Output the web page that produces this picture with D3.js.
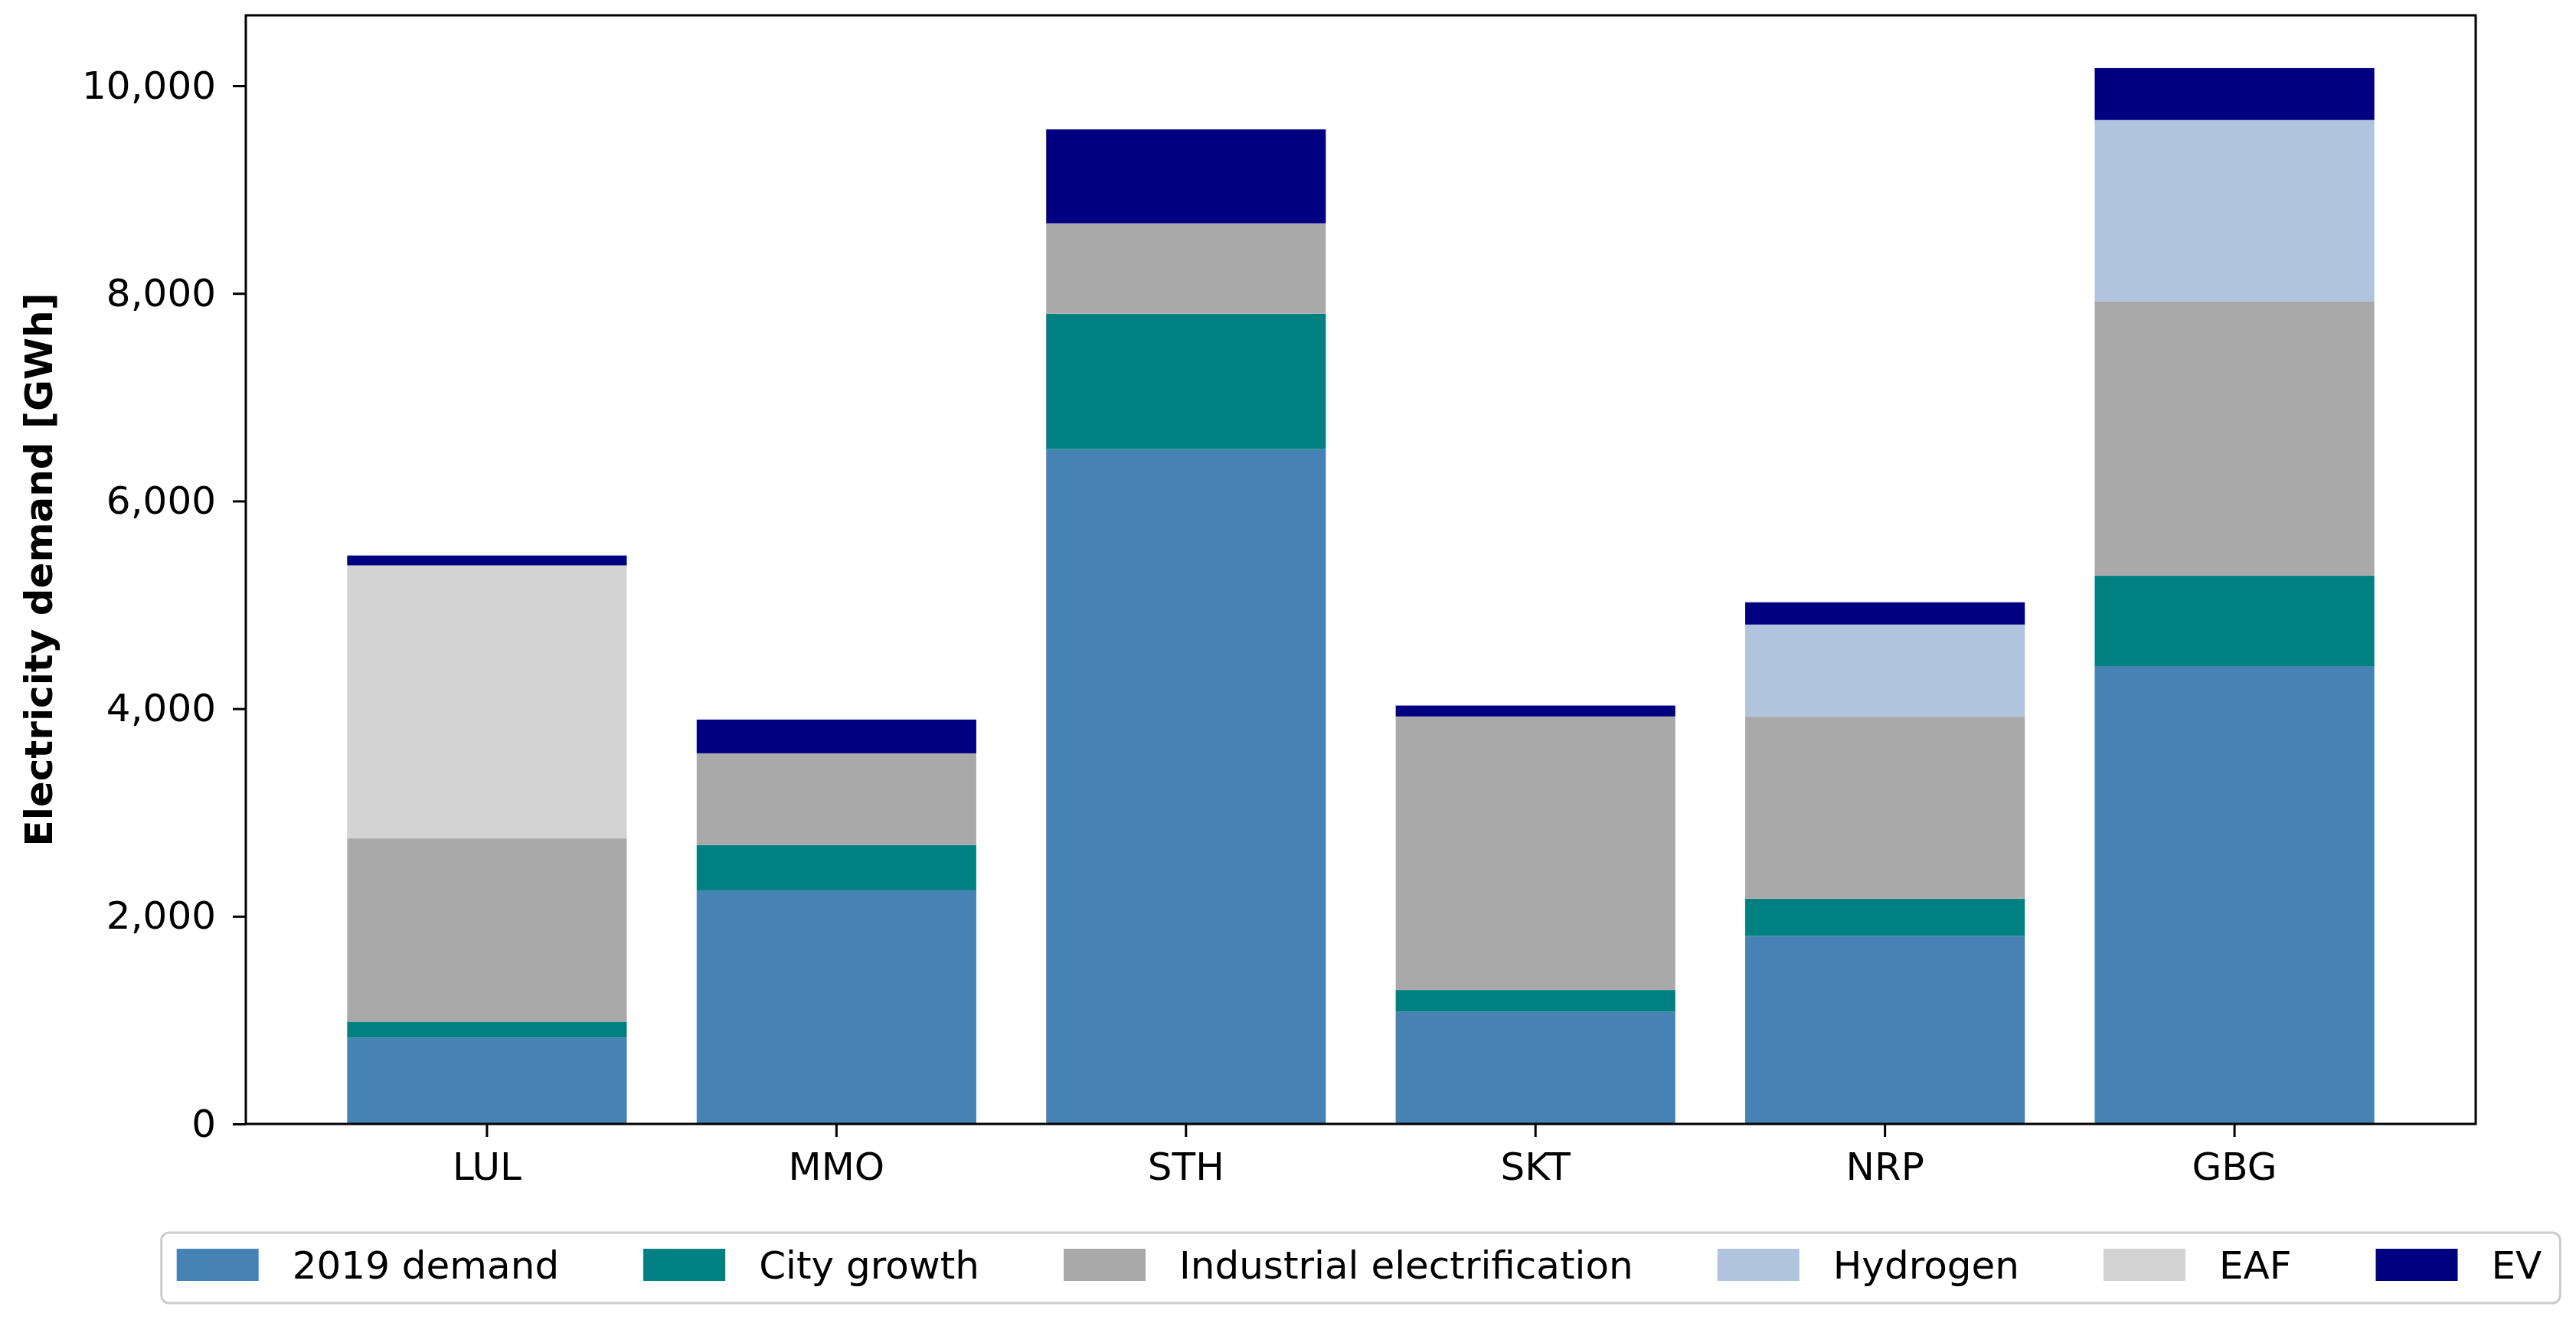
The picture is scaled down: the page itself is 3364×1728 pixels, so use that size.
<!DOCTYPE html>
<html>
<head>
<meta charset="utf-8">
<script src="https://d3js.org/d3.v7.min.js"></script>
<style>
  body { margin: 0; background: #fff; }
  text { font-family: "DejaVu Sans", sans-serif; }
</style>
</head>
<body>
<div id="chart"></div>
<script>
// sites and demand parts (GWh)
var sites = ["LUL", "MMO", "STH", "SKT", "NRP", "GBG"];
var parts = ["2019 demand", "City growth", "Industrial electrification", "Hydrogen", "EAF", "EV"];
var colors = ["#4682b4", "#008080", "#a9a9a9", "#b0c4de", "#d3d3d3", "#000080"];

var demand2019 = [830, 2250, 6500, 1080, 1810, 4410];
var cityGrowth = [155, 435, 1305, 210, 360, 870];
var industrial = [1765, 885, 870, 2635, 1755, 2645];
var hydrogen   = [0, 0, 0, 0, 885, 1745];
var eaf        = [2630, 0, 0, 0, 0, 0];
var ev         = [95, 325, 905, 105, 215, 500];

var yTicks = [0, 2000, 4000, 6000, 8000, 10000];

var series = [demand2019, cityGrowth, industrial, hydrogen, eaf, ev];

var rows = sites.map(function(s, i){
    var r = { site: s };
    parts.forEach(function(p, j){ r[p] = series[j][i]; });
    return r;
});

var W = 3364, H = 1728;
var mLeft = 321, mRight = 3233, mTop = 20, mBottom = 1468;

var svg = d3.select("#chart").append("svg")
    .attr("width", W).attr("height", H);

var stacked = d3.stack().keys(parts)(rows);
var maxTotal = d3.max(rows, function(r){ return d3.sum(parts, function(p){ return r[p]; }); });

var x = d3.scaleBand()
    .domain(sites)
    .range([mLeft, mRight])
    .paddingInner(0.2)
    .paddingOuter(0.29);

var y = d3.scaleLinear()
    .domain([0, maxTotal * 1.05])
    .range([mBottom, mTop]);

// bars
svg.append("g")
  .selectAll("g")
  .data(stacked)
  .enter()
  .append("g")
    .attr("fill", function(d, i){ return colors[i]; })
  .selectAll("rect")
  .data(function(d){ return d; })
  .enter()
  .append("rect")
    .attr("x", function(d){ return x(d.data.site); })
    .attr("width", x.bandwidth())
    .attr("y", function(d){ return y(d[1]); })
    .attr("height", function(d){ return y(d[0]) - y(d[1]); });

// axes
var yAxis = svg.append("g")
    .attr("transform", "translate(" + mLeft + ",0)")
    .call(d3.axisLeft(y).tickValues(yTicks).tickFormat(d3.format(",")).tickSize(17).tickPadding(22));

var xAxis = svg.append("g")
    .attr("transform", "translate(0," + mBottom + ")")
    .call(d3.axisBottom(x).tickSize(17).tickPadding(20));

[yAxis, xAxis].forEach(function(a){
    a.select(".domain").remove();
    a.selectAll("line").attr("stroke", "#000").attr("stroke-width", 3);
    a.selectAll("text").attr("font-size", 50).attr("fill", "#000")
        .style("font-family", "'DejaVu Sans', sans-serif");
});

// frame
svg.append("rect")
    .attr("x", mLeft).attr("y", mTop)
    .attr("width", mRight - mLeft).attr("height", mBottom - mTop)
    .attr("fill", "none").attr("stroke", "#000").attr("stroke-width", 3);

// y label
svg.append("text")
    .attr("transform", "translate(68," + ((mTop + mBottom) / 2) + ") rotate(-90)")
    .attr("text-anchor", "middle")
    .attr("font-size", 50)
    .attr("font-weight", "bold")
    .text("Electricity demand [GWh]");

// legend
var legend = svg.append("g");
var box = legend.append("rect");
var cx = 0, patchW = 107, patchH = 42, gapText = 44, gapItem = 110;
parts.forEach(function(p, i){
    var g = legend.append("g").attr("transform", "translate(" + cx + ",0)");
    g.append("rect").attr("x", 0).attr("y", -patchH / 2)
        .attr("width", patchW).attr("height", patchH).attr("fill", colors[i]);
    var t = g.append("text").attr("x", patchW + gapText).attr("y", 18)
        .attr("font-size", 50).text(p);
    cx += patchW + gapText + t.node().getComputedTextLength() + gapItem;
});
cx -= gapItem;
var padL = 20, padR = 24;
box.attr("x", -padL).attr("y", -42).attr("width", cx + padL + padR).attr("height", 92)
    .attr("rx", 10).attr("fill", "#fff").attr("stroke", "#cccccc").attr("stroke-width", 3);
var lx = (mLeft + mRight) / 2 - (cx + padL + padR) / 2 + padL;
legend.attr("transform", "translate(" + lx + ",1652)");
</script>
</body>
</html>
